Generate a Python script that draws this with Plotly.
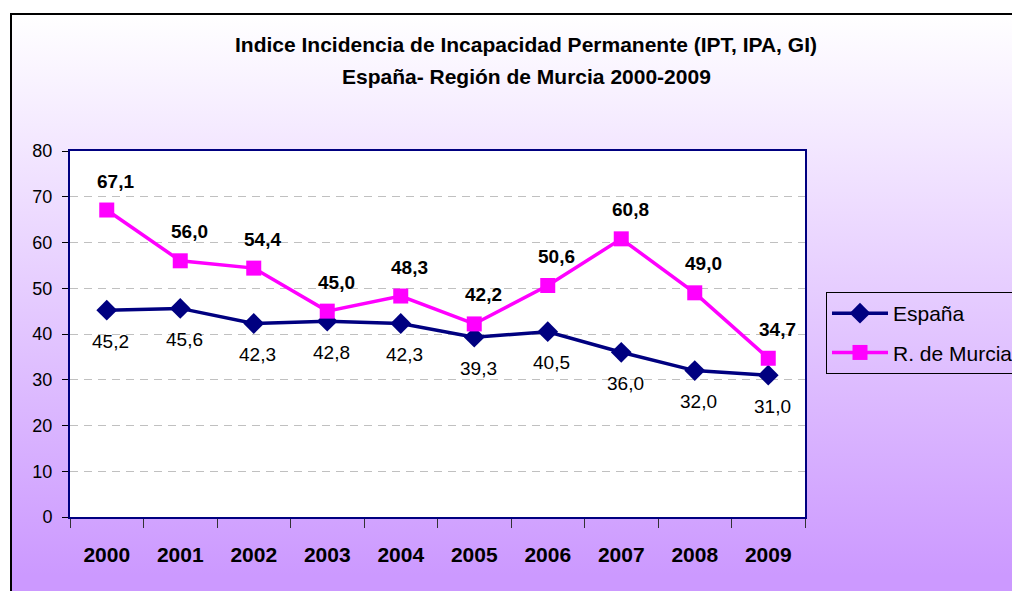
import plotly.graph_objects as go
import urllib.parse

# ---- data ----
years = ["2000", "2001", "2002", "2003", "2004", "2005", "2006", "2007", "2008", "2009"]
espana = [45.2, 45.6, 42.3, 42.8, 42.3, 39.3, 40.5, 36.0, 32.0, 31.0]
murcia = [67.1, 56.0, 54.4, 45.0, 48.3, 42.2, 50.6, 60.8, 49.0, 34.7]
y_ticks = [0, 10, 20, 30, 40, 50, 60, 70, 80]
title_line1 = "Indice Incidencia de Incapacidad Permanente (IPT, IPA, GI)"
title_line2 = "España- Región de Murcia 2000-2009"

W, H = 1020, 591
OFF = 8  # page body margin in the browser
L, T = 70 - OFF, 151 - OFF
R = W - (805 - OFF)
B = H - (517 - OFF)
pw, ph = W - L - R, H - T - B

NAVY = "#000080"
MAGENTA = "#FF00FF"
FONT = "Liberation Sans, Arial, sans-serif"


def fmt(v):
    return f"{v:.1f}".replace(".", ",")


fig = go.Figure()
fig.add_trace(go.Scatter(
    x=years, y=espana, name="España", mode="lines+markers",
    line=dict(color=NAVY, width=3.5),
    marker=dict(symbol="diamond", size=16, color=NAVY),
    legendgroup="a",
))
fig.add_trace(go.Scatter(
    x=years, y=murcia, name="R. de Murcia", mode="lines+markers",
    line=dict(color=MAGENTA, width=3.5),
    marker=dict(symbol="square", size=15, color=MAGENTA),
    legendgroup="b",
))

annotations = []
for i, yv in enumerate(murcia):
    annotations.append(dict(
        x=i, y=yv, xref="x", yref="y", text=fmt(yv), showarrow=False,
        xanchor="center", yanchor="middle", xshift=9, yshift=29,
        font=dict(family=FONT, size=19, color="black", weight="bold"),
    ))
for i, yv in enumerate(espana):
    annotations.append(dict(
        x=i, y=yv, xref="x", yref="y", text=fmt(yv), showarrow=False,
        xanchor="center", yanchor="middle", xshift=4, yshift=-31,
        font=dict(family=FONT, size=19, color="black"),
    ))
annotations.append(dict(
    text=f"<b>{title_line2}</b>", showarrow=False,
    xref="paper", yref="paper", x=(526 - OFF - L) / pw, y=(H - B - (76 - OFF)) / ph,
    xanchor="center", yanchor="middle",
    font=dict(family=FONT, size=21, color="black"),
))

# gradient background (white -> purple) with a black frame, as inline SVG
svg = (
    "<svg xmlns='http://www.w3.org/2000/svg' width='1020' height='600' viewBox='0 0 1020 600' "
    "preserveAspectRatio='none'><defs><linearGradient id='g' x1='0' y1='0' x2='0' y2='1'>"
    "<stop offset='0' stop-color='#FFFFFF'/><stop offset='0.92' stop-color='#CC99FF'/>"
    "<stop offset='1' stop-color='#CC99FF'/></linearGradient></defs>"
    "<rect x='1' y='1' width='1030' height='610' fill='url(#g)' stroke='#000000' stroke-width='2'/></svg>"
)
src = "data:image/svg+xml;charset=utf-8," + urllib.parse.quote(svg)

fig.add_layout_image(dict(
    source=src, xref="paper", yref="paper",
    x=(10 - OFF - L) / pw, y=(H - B - (13 - OFF)) / ph,
    sizex=1020 / pw, sizey=600 / ph,
    xanchor="left", yanchor="top", sizing="stretch", layer="below",
))
fig.add_shape(type="rect", xref="paper", yref="paper", x0=0, x1=1, y0=0, y1=1,
              fillcolor="white", line=dict(width=0), layer="below")

fig.update_layout(
    width=W, height=H,
    margin=dict(l=L, r=R, t=T, b=B, autoexpand=False),
    paper_bgcolor="white", plot_bgcolor="white",
    font=dict(family=FONT, color="black"),
    title=dict(text=f"<b>{title_line1}</b>", x=(526 - OFF) / W, xanchor="center",
               y=1 - (45 - OFF) / H, yanchor="middle",
               font=dict(family=FONT, size=21, color="black")),
    showlegend=True,
    legend=dict(
        xref="container", yref="container", x=(826 - OFF) / W, y=1 - (292 - OFF) / H,
        xanchor="left", yanchor="top",
        bgcolor="rgba(0,0,0,0)", bordercolor="black", borderwidth=1,
        font=dict(family=FONT, size=21, color="black"),
        tracegroupgap=9, traceorder="grouped", itemwidth=56,
    ),
    annotations=annotations,
)
fig.update_xaxes(
    type="category", categoryorder="array", categoryarray=years,
    range=[-0.5, len(years) - 0.5],
    showgrid=False, showline=True, linecolor=NAVY, linewidth=2, mirror=True,
    ticks="outside", tickson="boundaries", ticklen=9, tickcolor="#333333", tickwidth=1,
    tickfont=dict(family=FONT, size=21, color="black", weight="bold"),
    ticklabelstandoff=18,
)
fig.update_yaxes(
    range=[0, 80], tickvals=y_ticks, ticktext=[str(v) for v in y_ticks],
    showgrid=True, gridcolor="#C0C0C0", gridwidth=1, griddash="8px,6px",
    zeroline=False, showline=True, linecolor=NAVY, linewidth=2, mirror=True,
    ticks="outside", ticklen=6, tickcolor="#000000", tickwidth=1,
    tickfont=dict(family=FONT, size=18, color="black"),
    ticklabelstandoff=6,
)

fig.write_html("out.html")
